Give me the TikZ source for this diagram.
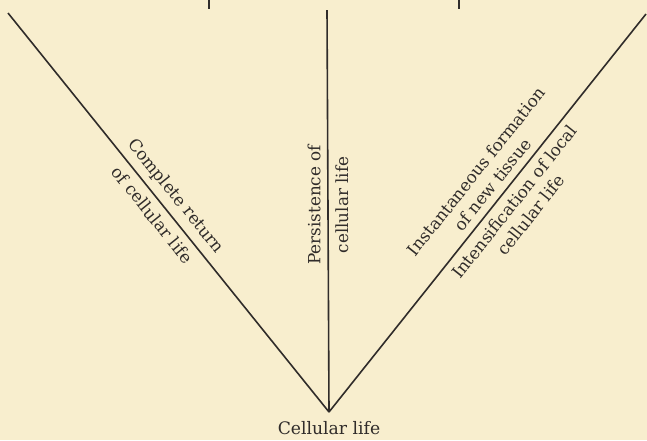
\documentclass[tikz,border=0pt]{standalone}
\usepackage{fontspec}
\setmainfont{DejaVu Serif}
\usepackage{tikz}
\usetikzlibrary{positioning}
\definecolor{paper}{RGB}{248,238,206}
\definecolor{ink}{RGB}{48,44,42}
\tikzset{
  stem_line/.style = {draw=ink, line width=0.8pt},% les trois directions
  stem_label/.style = {text=ink, align=center, font=\fontsize{8.4}{10.5}\selectfont},% texte le long d'une ligne
  root_label/.style = {text=ink, font=\fontsize{8.6}{10.5}\selectfont},% point de depart
  edge_tick/.style = {draw=ink, line width=0.9pt}% restes de la figure du dessus
}

\begin{document}
\begin{tikzpicture}[x=0.5pt, y=-0.5pt]
    \fill [paper] (0,0) rectangle (647,440);
    \useasboundingbox (0,0) rectangle (647,440);
    \coordinate (apex) at (329,412);
    \coordinate (left_end) at (8,13);
    \coordinate (mid_end) at (327,10);
    \coordinate (right_end) at (646,14);
    \node [root_label, below=1pt of apex] (root) {Cellular life};
    \draw [stem_line] (apex) -- (left_end)
      node [stem_label, pos=.516, sloped, above] (ret_a) {Complete return}
      node [stem_label, pos=.516, sloped, below] (ret_b) {of cellular life};
    \draw [stem_line] (apex) -- (mid_end)
      node [stem_label, pos=.515, rotate=90, above] (per_a) {Persistence of}
      node [stem_label, pos=.515, rotate=90, below] (per_b) {cellular life};
    \draw [stem_line] (apex) -- (right_end)
      node [stem_label, pos=.55, sloped, above] (ins_a) {Instantaneous formation\\of new tissue}
      node [stem_label, pos=.55, sloped, below] (ins_b) {Intensification of local\\cellular life};
    \draw [edge_tick] (209,0) -- (209,9);
    \draw [edge_tick] (459,0) -- (459,9);
  \end{tikzpicture}
\end{document}
